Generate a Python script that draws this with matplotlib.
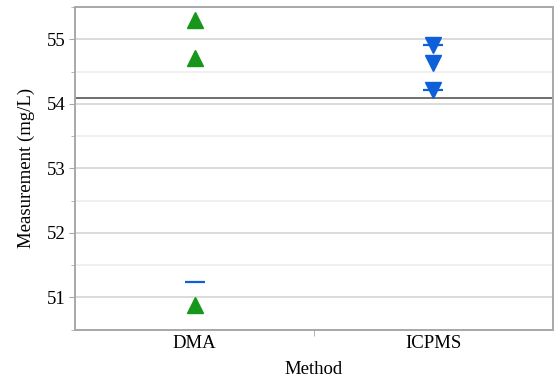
import numpy as np
import matplotlib
matplotlib.use('Agg')
import matplotlib.pyplot as plt
from matplotlib.ticker import MultipleLocator, FixedLocator

plt.rcParams['font.family'] = ['Liberation Serif', 'DejaVu Serif']

methods = ['DMA', 'ICPMS']
dma_values = [55.30, 54.71, 50.89]
icpms_values = [54.91, 54.63, 54.22]
dma_dashes = [51.24]
icpms_dashes = [54.91, 54.21]
grand_mean = 54.09

green = '#17961c'
blue = '#0e5fd8'
fs = 13.5

fig = plt.figure(figsize=(5.57, 3.82), dpi=100)
ax = fig.add_axes([0.1347, 0.1369, 0.8581, 0.8448])

ax.set_xlim(-0.5, 1.5)
ax.set_ylim(50.5, 55.5)

ax.yaxis.set_major_locator(MultipleLocator(1))
ax.yaxis.set_minor_locator(MultipleLocator(0.5))
ax.grid(which='major', axis='y', color='#d4d4d4', lw=1.2, zorder=0)
ax.grid(which='minor', axis='y', color='#ededed', lw=1.2, zorder=0)

ax.axhline(grand_mean, color='#6e6e6e', lw=1.4, zorder=2)

ax.plot(np.zeros(len(dma_dashes)), dma_dashes, ls='none', marker='_',
        ms=15, mew=1.6, color=blue, zorder=3)
ax.plot(np.ones(len(icpms_dashes)), icpms_dashes, ls='none', marker='_',
        ms=15, mew=1.6, color=blue, zorder=3)
ax.plot(np.zeros(len(dma_values)), dma_values, ls='none', marker='^',
        ms=11, color=green, zorder=4)
ax.plot(np.ones(len(icpms_values)), icpms_values, ls='none', marker='v',
        ms=11, color=blue, zorder=4)

ax.set_xticks(range(len(methods)))
ax.set_xticklabels(methods, fontsize=fs)
ax.xaxis.set_minor_locator(FixedLocator([0.5]))
ax.tick_params(axis='x', which='major', length=0, pad=4)
ax.tick_params(axis='x', which='minor', length=4, color='#a8a8a8')
ax.tick_params(axis='y', which='major', length=4, color='#a8a8a8', labelsize=fs, pad=3)
ax.tick_params(axis='y', which='minor', length=3, color='#a8a8a8')

for s in ax.spines.values():
    s.set_color('#a8a8a8')
    s.set_linewidth(1.4)

ax.set_xlabel('Method', fontsize=fs, labelpad=6)
ax.set_ylabel('Measurement (mg/L)', fontsize=fs, labelpad=8)

fig.savefig('out.png', dpi=100)
